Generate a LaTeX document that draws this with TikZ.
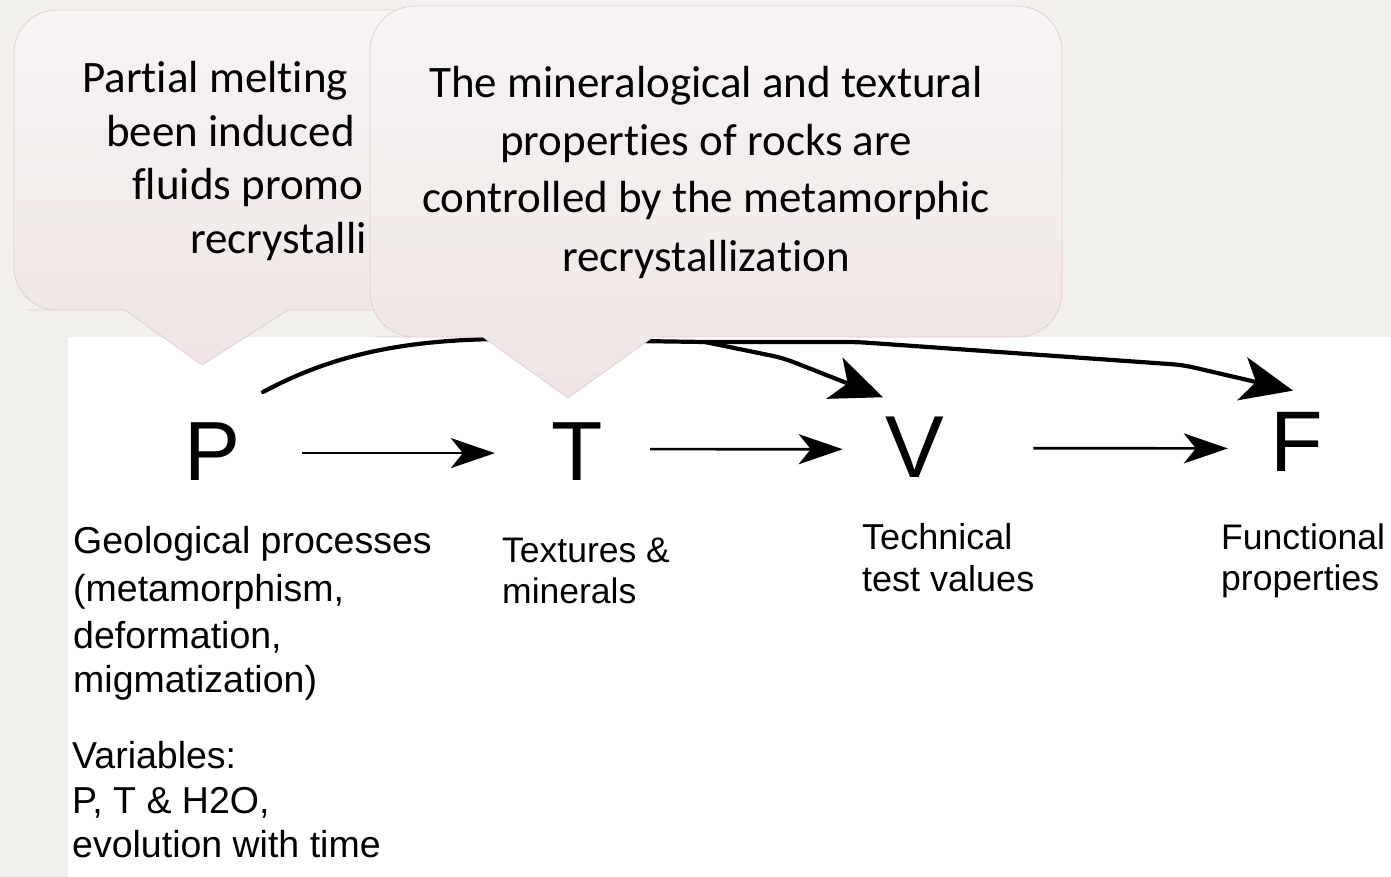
\documentclass[tikz,border=0pt]{standalone}
\usepackage{fontspec}
\setmainfont[Ligatures={NoCommon}]{Carlito}
\newfontfamily\arialf{Liberation Sans}
\usetikzlibrary{arrows.meta}
\definecolor{bgc}{RGB}{241,240,237}
\definecolor{ctop}{RGB}{247,244,243}
\definecolor{cbot}{RGB}{239,230,229}
\definecolor{cbord}{RGB}{226,208,206}
\begin{document}
\begin{tikzpicture}[x=1pt,y=-1pt,
  callout/.style={draw=cbord, line width=0.8pt, top color=ctop, bottom color=cbot},
  cline/.style={anchor=base, inner sep=0pt, font=\fontsize{45}{54}\selectfont},
  clinew/.style={anchor=base west, inner sep=0pt, font=\fontsize{45}{54}\selectfont},
  bigletter/.style={anchor=base, inner sep=0pt, font=\arialf\fontsize{#1}{#1}\selectfont},
  plab/.style={anchor=base west, inner sep=0pt, font=\arialf\fontsize{#1}{#1}\selectfont},
  thinarr/.style={line width=2.7pt, -{Stealth[length=44pt,width=30pt,inset=12pt]}},
  bigarr/.style={line width=4.2pt, line join=round, rounded corners=10pt, -{Stealth[length=52pt,width=44pt,inset=14pt]}},
]
\useasboundingbox (0,0) rectangle (1391,877);
\fill[bgc] (0,0) rectangle (1391,877);
\fill[white] (68,337) rectangle (1391,877);

% letters
\node[bigletter=84] (P) at (213,480) {P};
\node[bigletter=84] (T) at (577,480) {T};
\node[bigletter=88] (V) at (915,477) {V};
\node[bigletter=86] (F) at (1297,471) {F};

% straight arrows
\draw[thinarr] ([xshift=61pt,yshift=-2pt]P.east) -- ([xshift=-56.3pt,yshift=-2pt]T.west);
\draw[thinarr] ([xshift=47.3pt,yshift=2pt]T.east) -- ([xshift=-42.7pt,yshift=-2.5pt]V.west);
\draw[thinarr] ([xshift=88.7pt,yshift=-1.5pt]V.east) -- ([xshift=-42.7pt,yshift=-7pt]F.west);

% curved arrows
\coordinate (c0) at (263,392);
\coordinate (c1) at (500,339);
\coordinate (cb) at (705,342);
\coordinate (cv) at (783,358);
\coordinate (cf1) at (857,342);
\coordinate (cf2) at (1183,365);
\draw[line width=4.2pt, line cap=round] (c0) .. controls (330,356) and (400,340) .. (c1) -- (cb);
\draw[bigarr] (cb) -- (cv) -- ([xshift=-32pt,yshift=19pt]V.north);
\draw[bigarr] (cb) -- (cf1) -- (cf2) -- ([xshift=-4pt,yshift=21pt]F.north);

% labels
\node[plab=37.5] (g1) at (73,553) {Geological processes};
\node[plab=37.5] (g2) at (73,601) {(metamorphism,};
\node[plab=37.5] (g3) at (73,648) {deformation,};
\node[plab=37.5] (g4) at (73,692) {migmatization)};
\node[plab=37.5] (v1) at (72,768) {Variables:};
\node[plab=37.5] (v2) at (72,813) {P, T \& H2O,};
\node[plab=37.5] (v3) at (72,857) {evolution with time};
\node[plab=35.5] (t1) at (502,562) {Textures \&};
\node[plab=35.5] (t2) at (502,603) {minerals};
\node[plab=36] (tv1) at (862,549) {Technical};
\node[plab=36] (tv2) at (862,591) {test values};
\node[plab=35.5] (f1) at (1221,549) {Functional};
\node[plab=35.5] (f2) at (1221,590) {properties};

% left callout
\path[callout] (202,365) -- (288,310) -- (400,310) [rounded corners=43pt] -- (700,310) -- (700,10) -- (14,10) -- (14,310) -- (70,310) [sharp corners] -- (125,310) -- cycle;
\node[clinew] (l1) at (82,93) {Partial melting};
\node[clinew] (l2) at (106,147) {been induced};
\node[clinew] (l3) at (132,200) {fluids promo};
\node[clinew] (l4) at (190,254) {recrystalli};

% right callout
\path[callout] (568,398) -- (653,337) -- (800,337) [rounded corners=45pt] -- (1062,337) -- (1062,6) -- (370,6) -- (370,337) -- (420,337) [sharp corners] -- (483,337) -- cycle;
\node[cline] (r1) at (706,98) {The mineralogical and textural};
\node[cline] (r2) at (706,156) {properties of rocks are};
\node[cline] (r3) at (706,213) {controlled by the metamorphic};
\node[cline] (r4) at (706,271) {recrystallization};
\end{tikzpicture}
\end{document}
